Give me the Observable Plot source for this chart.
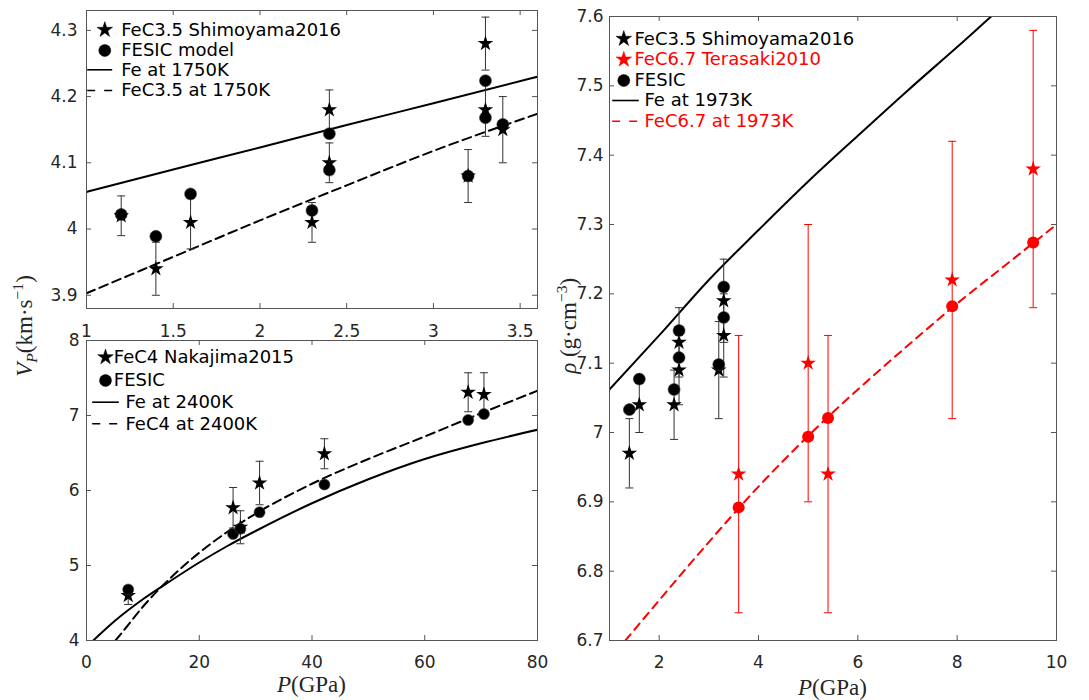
<!DOCTYPE html>
<html>
<head>
<meta charset="utf-8">
<script src="https://cdn.jsdelivr.net/npm/d3@7"></script>
<script src="https://cdn.jsdelivr.net/npm/@observablehq/plot@0.6"></script>
<style>
  html, body { margin: 0; padding: 0; background: white; }
  #chart { position: relative; width: 1089px; height: 700px; background: white; overflow: hidden; }
  .pane { position: absolute; }
  .lab { position: absolute; font-family: "Liberation Serif", "DejaVu Serif", serif; font-size: 23px; color: #262626; white-space: nowrap; line-height: 1; }
  .lab sub, .lab sup { font-size: 0.68em; }
</style>
</head>
<body>
<div id="chart"></div>
<script>
// ---------------- DATA ----------------
// Top-left: V_P vs P, FeC3.5 Shimoyama2016
const vpShimoP   = [1.2, 1.4, 1.6, 2.3, 2.4, 2.4, 3.2, 3.3, 3.3, 3.4];
const vpShimoV   = [4.02, 3.94, 4.01, 4.01, 4.18, 4.10, 4.08, 4.28, 4.18, 4.15];
const vpShimoErr = [0.03, 0.04, 0.04, 0.03, 0.03, 0.03, 0.04, 0.04, 0.04, 0.05];
const vpShimoFesic = [4.022, 3.989, 4.053, 4.028, 4.144, 4.089, 4.080, 4.224, 4.168, 4.158];
const vpLine1750P = [1, 1.5, 2, 2.5, 3, 3.6];
const vpFe1750    = [4.056, 4.090, 4.123, 4.157, 4.190, 4.230];
const vpFeC35_1750 = [3.903, 3.958, 4.013, 4.066, 4.118, 4.174];

// Bottom-left: V_P vs P, FeC4 Nakajima2015
const vpNakaP   = [7.4, 26.0, 27.3, 30.7, 42.2, 67.7, 70.5];
const vpNakaV   = [4.60, 5.77, 5.51, 6.10, 6.49, 7.31, 7.28];
const vpNakaErr = [0.12, 0.27, 0.22, 0.29, 0.20, 0.26, 0.29];
const vpNakaFesic = [4.68, 5.42, 5.49, 5.71, 6.08, 6.94, 7.02];
const vpFe2400P = [1.2, 5, 10, 15, 20, 25, 30, 40, 50, 60, 70, 80];
const vpFe2400  = [4.00, 4.26, 4.55, 4.80, 5.04, 5.26, 5.46, 5.83, 6.15, 6.42, 6.63, 6.81];
const vpFeC4P   = [5.14, 7, 10, 15, 20, 25, 30, 40, 50, 60, 70, 80];
const vpFeC4    = [4.00, 4.17, 4.45, 4.84, 5.17, 5.45, 5.69, 6.09, 6.42, 6.72, 7.03, 7.33];

// Right: density vs P
const rhoShimoP   = [1.4, 1.6, 2.3, 2.4, 2.4, 3.2, 3.3, 3.3];
const rhoShimo    = [6.97, 7.04, 7.04, 7.09, 7.13, 7.09, 7.19, 7.14];
const rhoShimoErr = [0.05, 0.04, 0.05, 0.05, 0.05, 0.07, 0.06, 0.06];
const rhoShimoFesic = [7.033, 7.077, 7.062, 7.108, 7.147, 7.098, 7.210, 7.166];
const rhoTeraP    = [3.6, 5.0, 5.4, 7.9, 9.53];
const rhoTera     = [6.94, 7.10, 6.94, 7.22, 7.38];
const rhoTeraErr  = [0.20, 0.20, 0.20, 0.20, 0.20];
const rhoTeraFesic = [6.892, 6.994, 7.021, 7.182, 7.274];
const rhoFe1973P  = [1, 2, 3, 4, 5, 6, 7, 8, 9, 10];
const rhoFe1973   = [7.062, 7.140, 7.220, 7.292, 7.362, 7.428, 7.493, 7.556, 7.620, 7.680];
const rhoFeC67P   = [1.32, 2, 3, 4, 5, 6, 7, 8, 9, 10];
const rhoFeC67    = [6.700, 6.758, 6.842, 6.922, 6.995, 7.062, 7.125, 7.186, 7.243, 7.300];

// Ticks
const tlXTicks = [1, 1.5, 2, 2.5, 3, 3.5];
const tlYTicks = [3.9, 4, 4.1, 4.2, 4.3];
const blXTicks = [0, 20, 40, 60, 80];
const blYTicks = [4, 5, 6, 7, 8];
const rXTicks  = [2, 4, 6, 8, 10];
const rYTicks  = [6.7, 6.8, 6.9, 7, 7.1, 7.2, 7.3, 7.4, 7.5, 7.6];

// Legend labels
const tlLegend = ["FeC3.5 Shimoyama2016", "FESIC model", "Fe at 1750K", "FeC3.5 at 1750K"];
const blLegend = ["FeC4 Nakajima2015", "FESIC", "Fe at 2400K", "FeC4 at 2400K"];
const rLegend  = ["FeC3.5 Shimoyama2016", "FeC6.7 Terasaki2010", "FESIC", "Fe at 1973K", "FeC6.7 at 1973K"];

// ---------------- HELPERS ----------------
const AX = "#555555";
const TXT = "#262626";
const RED = "#ff0000";
const FONT = "DejaVu Sans, Liberation Sans, sans-serif";
const STAR_R = 4.9;
const fmt = d => String(d);

const zip = (ps, vs, es) => ps.map((p, i) => ({p, v: vs[i], e: es ? es[i] : 0}));
const cap = {draw(ctx) { ctx.moveTo(-4, 0); ctx.lineTo(4, 0); }};
const seg = (half) => ({draw(ctx) { ctx.moveTo(-half, 0); ctx.lineTo(half, 0); }});

function errorMarks(data, color) {
  return [
    Plot.ruleX(data, {x: "p", y1: d => d.v - d.e, y2: d => d.v + d.e, stroke: color, strokeWidth: 1}),
    Plot.dot(data, {x: "p", y: d => d.v - d.e, symbol: cap, stroke: color, fill: "none", strokeWidth: 1}),
    Plot.dot(data, {x: "p", y: d => d.v + d.e, symbol: cap, stroke: color, fill: "none", strokeWidth: 1})
  ];
}

function legendMarks(items, L) {
  const out = [];
  items.forEach((it, i) => {
    const dy = L.dys[i];
    if (it.kind === "star" || it.kind === "circle") {
      out.push(Plot.dot([0], {frameAnchor: "top-left", dx: L.mdx, dy, symbol: it.kind,
        r: it.kind === "star" ? STAR_R : 6, fill: it.color, stroke: it.color, strokeWidth: 0.5}));
      out.push(Plot.text([it.label], {text: d => d, frameAnchor: "top-left", dx: L.tdx, dy,
        textAnchor: "start", lineAnchor: "middle", fontSize: 18, fill: it.color}));
    } else {
      out.push(Plot.dot([0], {frameAnchor: "top-left", dx: L.ldx, dy, symbol: seg(L.half),
        stroke: it.color, strokeWidth: 1.6, fill: "none", strokeDasharray: it.dash || null}));
      out.push(Plot.text([it.label], {text: d => d, frameAnchor: "top-left", dx: L.ltdx, dy,
        textAnchor: "start", lineAnchor: "middle", fontSize: 18, fill: it.color}));
    }
  });
  return out;
}

function panel(o) {
  const iw = o.width - o.ml - o.mr, ih = o.height - o.mt - o.mb;
  const tl = 5;
  return Plot.plot({
    width: o.width, height: o.height,
    marginLeft: o.ml, marginRight: o.mr, marginTop: o.mt, marginBottom: o.mb,
    x: {domain: o.xDomain, label: null},
    y: {domain: o.yDomain, label: null},
    style: {background: "transparent", fontFamily: FONT, fontSize: "17px", color: TXT, overflow: "visible"},
    marks: [
      Plot.ruleX(o.xTicks, {x: d => d, insetTop: ih - tl, stroke: AX}),
      Plot.ruleX(o.xTicks, {x: d => d, insetBottom: ih - tl, stroke: AX}),
      Plot.ruleY(o.yTicks, {y: d => d, insetRight: iw - tl, stroke: AX}),
      Plot.ruleY(o.yTicks, {y: d => d, insetLeft: iw - tl, stroke: AX}),
      Plot.axisX(o.xTicks, {anchor: "bottom", tickSize: 0, tickPadding: o.xPad, tickFormat: fmt, label: null, fontSize: 17, fill: TXT}),
      Plot.axisY(o.yTicks, {anchor: "left", tickSize: 0, tickPadding: o.yPad, tickFormat: fmt, label: null, fontSize: 17, fill: TXT}),
      ...o.marks,
      Plot.frame({stroke: AX, strokeWidth: 1})
    ]
  });
}

function place(node, left, top, w, h) {
  const d = document.createElement("div");
  d.className = "pane";
  d.style.left = left + "px"; d.style.top = top + "px";
  d.style.width = w + "px"; d.style.height = h + "px";
  d.appendChild(node);
  document.getElementById("chart").appendChild(d);
}

const CURVE = "monotone-x";

// ---------------- TOP-LEFT ----------------
const tlStars = zip(vpShimoP, vpShimoV, vpShimoErr);
const tlDots = zip(vpShimoP, vpShimoFesic);
const tlFe = zip(vpLine1750P, vpFe1750);
const tlFeC = zip(vpLine1750P, vpFeC35_1750);
const p1 = panel({
  width: 560, height: 345, ml: 86, mr: 23, mt: 10, mb: 37,
  xDomain: [1, 3.6], yDomain: [3.88, 4.33], xTicks: tlXTicks, yTicks: tlYTicks, xPad: 16, yPad: 9,
  marks: [
    Plot.line(tlFe, {x: "p", y: "v", stroke: "black", strokeWidth: 2, curve: CURVE, clip: true}),
    Plot.line(tlFeC, {x: "p", y: "v", stroke: "black", strokeWidth: 2, strokeDasharray: "9,5", curve: CURVE, clip: true}),
    ...errorMarks(tlStars, "#333"),
    Plot.dot(tlDots, {x: "p", y: "v", r: 6, fill: "black", stroke: "#444", strokeWidth: 0.6}),
    Plot.dot(tlStars, {x: "p", y: "v", symbol: "star", r: STAR_R, fill: "black"}),
    ...legendMarks([
      {kind: "star", color: "black", label: tlLegend[0]},
      {kind: "circle", color: "black", label: tlLegend[1]},
      {kind: "line", color: "black", label: tlLegend[2]},
      {kind: "line", color: "black", label: tlLegend[3], dash: "8,9"}
    ], {dys: [19.3, 40, 59.3, 80], mdx: 18.3, tdx: 34.7, ldx: 13.2, half: 12.5, ltdx: 34.7})
  ]
});
place(p1, 0, 0, 560, 345);

// ---------------- BOTTOM-LEFT ----------------
const blStars = zip(vpNakaP, vpNakaV, vpNakaErr);
const blDots = zip(vpNakaP, vpNakaFesic);
const blFe = zip(vpFe2400P, vpFe2400);
const blFeC = zip(vpFeC4P, vpFeC4);
const p2 = panel({
  width: 560, height: 370, ml: 86, mr: 23, mt: 10, mb: 60,
  xDomain: [0, 80], yDomain: [4, 8], xTicks: blXTicks, yTicks: blYTicks, xPad: 15, yPad: 7,
  marks: [
    Plot.line(blFe, {x: "p", y: "v", stroke: "black", strokeWidth: 2, curve: CURVE, clip: true}),
    Plot.line(blFeC, {x: "p", y: "v", stroke: "black", strokeWidth: 2, strokeDasharray: "9,5", curve: CURVE, clip: true}),
    ...errorMarks(blStars, "#333"),
    Plot.dot(blStars, {x: "p", y: "v", symbol: "star", r: STAR_R, fill: "black"}),
    Plot.dot(blDots, {x: "p", y: "v", r: 5.5, fill: "black", stroke: "#444", strokeWidth: 0.6}),
    ...legendMarks([
      {kind: "star", color: "black", label: blLegend[0]},
      {kind: "circle", color: "black", label: blLegend[1]},
      {kind: "line", color: "black", label: blLegend[2]},
      {kind: "line", color: "black", label: blLegend[3], dash: "8,9"}
    ], {dys: [16.7, 40, 61.7, 83.3], mdx: 19, tdx: 27.3, ldx: 19, half: 13.3, ltdx: 39})
  ]
});
place(p2, 0, 330, 560, 370);

// ---------------- RIGHT ----------------
const rStars = zip(rhoShimoP, rhoShimo, rhoShimoErr);
const rDots = zip(rhoShimoP, rhoShimoFesic);
const rRedStars = zip(rhoTeraP, rhoTera, rhoTeraErr);
const rRedDots = zip(rhoTeraP, rhoTeraFesic);
const rFe = zip(rhoFe1973P, rhoFe1973);
const rFeC = zip(rhoFeC67P, rhoFeC67);
const p3 = panel({
  width: 529, height: 700, ml: 49, mr: 33, mt: 16, mb: 60,
  xDomain: [1, 10], yDomain: [6.7, 7.6], xTicks: rXTicks, yTicks: rYTicks, xPad: 15, yPad: 6,
  marks: [
    Plot.line(rFe, {x: "p", y: "v", stroke: "black", strokeWidth: 2, curve: CURVE, clip: true}),
    Plot.line(rFeC, {x: "p", y: "v", stroke: RED, strokeWidth: 2, strokeDasharray: "8,6", curve: CURVE, clip: true}),
    ...errorMarks(rStars, "#333"),
    ...errorMarks(rRedStars, RED),
    Plot.dot(rStars, {x: "p", y: "v", symbol: "star", r: STAR_R, fill: "black"}),
    Plot.dot(rDots, {x: "p", y: "v", r: 6, fill: "black", stroke: "#444", strokeWidth: 0.6}),
    Plot.dot(rRedStars, {x: "p", y: "v", symbol: "star", r: STAR_R, fill: RED}),
    Plot.dot(rRedDots, {x: "p", y: "v", r: 6, fill: RED}),
    ...legendMarks([
      {kind: "star", color: "black", label: rLegend[0]},
      {kind: "star", color: RED, label: rLegend[1]},
      {kind: "circle", color: "black", label: rLegend[2]},
      {kind: "line", color: "black", label: rLegend[3]},
      {kind: "line", color: RED, label: rLegend[4], dash: "8,9"}
    ], {dys: [22.3, 43, 64, 84, 104.7], mdx: 14.3, tdx: 25, ldx: 16, half: 13.3, ltdx: 35})
  ]
});
place(p3, 560, 0, 529, 700);

// ---------------- AXIS LABELS (HTML, with sub/superscripts) ----------------
function addLabel(html, cx, cy, rotate) {
  const d = document.createElement("div");
  d.className = "lab";
  d.innerHTML = html;
  document.getElementById("chart").appendChild(d);
  const w = d.offsetWidth, h = d.offsetHeight;
  d.style.left = (cx - w / 2) + "px";
  d.style.top = (cy - h / 2) + "px";
  if (rotate) d.style.transform = "rotate(-90deg)";
}
addLabel("<i>P</i>(GPa)", 311.5, 684, false);
addLabel("<i>P</i>(GPa)", 832.5, 687, false);
addLabel("<i>V</i><sub><i>P</i></sub>(km·s<sup>−1</sup>)", 25, 326, true);
addLabel("<i>ρ</i> (g·cm<sup>−3</sup>)", 567, 326, true);
</script>
</body>
</html>
